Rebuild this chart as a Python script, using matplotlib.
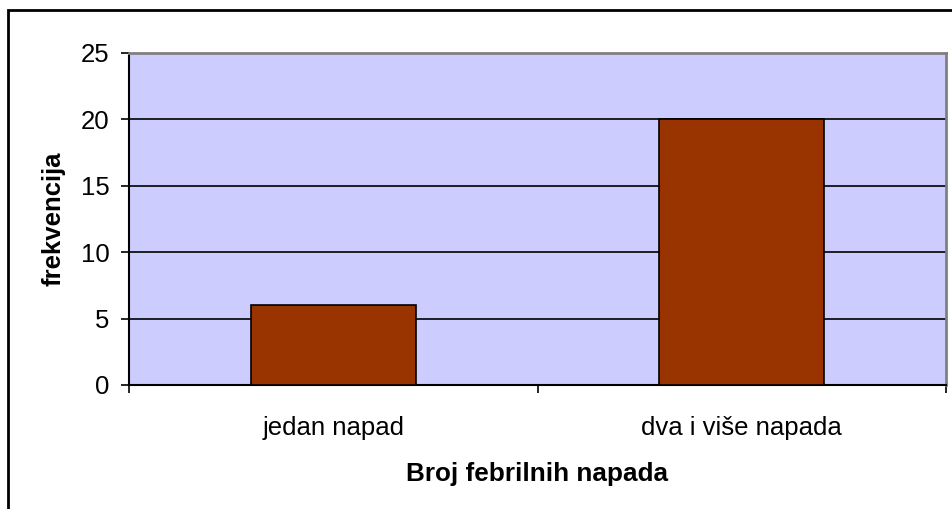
import matplotlib
matplotlib.use("Agg")
import matplotlib.pyplot as plt
from matplotlib.patches import Rectangle

categories = ["jedan napad", "dva i više napada"]
values = [6, 20]
yticks = [0, 5, 10, 15, 20, 25]

plt.rcParams['font.family'] = ['Liberation Sans', 'DejaVu Sans']

W, H = 952, 509
fig = plt.figure(figsize=(W/100, H/100), dpi=100)
ax = fig.add_axes([129/W, 1-385/H, (946-129)/W, (385-53)/H])
ax.set_facecolor('#CCCCFF')

x = list(range(len(categories)))
ax.bar(x, values, width=0.404, color='#993300', edgecolor='black', linewidth=1.2, zorder=3)

ax.set_xlim(-0.5, len(categories) - 0.5)
ax.set_ylim(0, 25)
ax.set_yticks(yticks)
ax.yaxis.grid(True, color='black', linewidth=1.2, zorder=1)
ax.set_axisbelow(True)

ax.set_xticks([-0.5, 0.5, 1.5])
ax.set_xticklabels([])
ax.set_xticks(x, minor=True)
ax.set_xticklabels(categories, minor=True)
ax.tick_params(axis='x', which='minor', length=0, pad=22, labelsize=18.5)
ax.tick_params(axis='x', which='major', direction='out', length=6, width=1.2, color='black')
ax.tick_params(axis='y', direction='out', length=6, width=1.2, labelsize=18.5, pad=8)

for s in ['top', 'right']:
    ax.spines[s].set_color('#808080')
    ax.spines[s].set_linewidth(2)
for s in ['left', 'bottom']:
    ax.spines[s].set_color('black')
    ax.spines[s].set_linewidth(1.5)

ax.set_xlabel('Broj febrilnih napada', fontsize=18.8, fontweight='bold', labelpad=16)
ax.set_ylabel('frekvencija', fontsize=18.5, fontweight='bold', labelpad=11)

fig.patches.append(Rectangle((8/W, -0.1), 1.2, 1 - 10/H + 0.1, transform=fig.transFigure,
                             fill=False, edgecolor='black', linewidth=2))

fig.savefig('out.png', dpi=100)
